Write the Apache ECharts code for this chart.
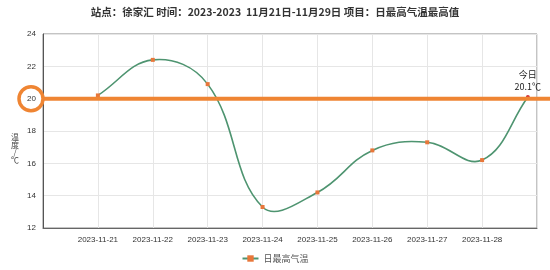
<!DOCTYPE html>
<html>
<head>
<meta charset="utf-8">
<script src="https://cdn.jsdelivr.net/npm/echarts@6/dist/echarts.min.js"></script>
<style>html,body{margin:0;padding:0;background:#fff}#c{width:550px;height:270px}</style>
</head>
<body>
<div id="c"></div>
<script>
const titleText = '站点：徐家汇 时间：2023-2023  11月21日-11月29日 项目：日最高气温最高值';
const seriesName = '日最高气温';
const yAxisTitleChars = ['温', '度', '/', '℃'];
const dates = ['2023-11-21','2023-11-22','2023-11-23','2023-11-24','2023-11-25','2023-11-26','2023-11-27','2023-11-28','2023-11-28 20:00'];
const values = [20.2, 22.4, 20.9, 13.3, 14.2, 16.8, 17.3, 16.2, 20.1];
const todayLabel = '今日';
const refValue = 20;
const xMin = '2023-11-20';
const xMax = '2023-11-29';
const yTicks = [12, 14, 16, 18, 20, 22, 24];

const LINE_COLOR = '#4e9470';
const chart = echarts.init(document.getElementById('c'), null, {renderer:'canvas'});
const DAY = 86400000;
const minT = new Date(xMin).getTime(), maxT = new Date(xMax).getTime();
const pad = n => (n < 10 ? '0' : '') + n;
const pairs = dates.map((d, i) => [d, values[i]]);

const markerData = pairs.map((p, i) => {
  const item = { value: p };
  if (i === pairs.length - 1) {
    item.symbol = 'circle';
    item.symbolSize = 4;
    item.itemStyle = { color: '#d0343a' };
    item.label = {
      show: true, position: 'top', distance: 2,
      formatter: todayLabel + '\n' + values[i].toFixed(1) + '℃',
      fontSize: 9, color: '#222', lineHeight: 12, fontFamily: 'Noto Sans CJK SC'
    };
  }
  return item;
});

// smooth curve (cardinal spline, tension 0.4) through the data, positioned by the axes
function renderCurve(params, api) {
  if (params.dataIndexInside !== 0) return null;
  const n = params.dataInsideLength;
  const pts = [];
  for (let i = 0; i < n; i++) pts.push(api.coord([api.value(0, i), api.value(1, i)]));
  const t = 0.4;
  const cps = pts.map((p, i) => {
    const p0 = pts[i - 1] || p, p2 = pts[i + 1] || p;
    const d01 = Math.hypot(p[0] - p0[0], p[1] - p0[1]);
    const d12 = Math.hypot(p2[0] - p[0], p2[1] - p[1]);
    const s = d01 + d12 || 1;
    const fa = t * d01 / s, fb = t * d12 / s;
    return {
      prev: [p[0] - fa * (p2[0] - p0[0]), p[1] - fa * (p2[1] - p0[1])],
      next: [p[0] + fb * (p2[0] - p0[0]), p[1] + fb * (p2[1] - p0[1])]
    };
  });
  let path = 'M' + pts[0][0] + ' ' + pts[0][1];
  for (let i = 1; i < n; i++) {
    const a = cps[i - 1].next, b = cps[i].prev;
    path += ' C' + a[0] + ' ' + a[1] + ' ' + b[0] + ' ' + b[1] + ' ' + pts[i][0] + ' ' + pts[i][1];
  }
  return { type: 'path', shape: { pathData: path }, style: { stroke: LINE_COLOR, lineWidth: 1.6, fill: null } };
}

chart.setOption({
  animation: false,
  title: {
    text: titleText, left: 'center', top: 2,
    textStyle: { fontSize: 10.5, fontWeight: 'bold', color: '#333', fontFamily: 'Noto Sans CJK SC' }
  },
  legend: {
    bottom: 2, left: 'center', itemWidth: 16, itemHeight: 8, itemGap: 10,
    textStyle: { fontSize: 9, color: '#555', fontFamily: 'Noto Sans CJK SC' },
    lineStyle: { color: LINE_COLOR, width: 2, opacity: 1 },
    data: [seriesName]
  },
  grid: { left: 43, right: 13, top: 34, bottom: 42, show: true, borderColor: '#888', borderWidth: 1, backgroundColor: 'transparent' },
  xAxis: {
    type: 'time', min: xMin, max: xMax, minInterval: DAY, maxInterval: DAY,
    axisLine: { lineStyle: { color: '#666' } },
    axisTick: { show: false },
    splitLine: { show: true, lineStyle: { color: '#e6e6e6' } },
    axisLabel: {
      fontSize: 8, color: '#333', margin: 8, fontFamily: 'Liberation Sans',
      formatter: v => {
        if (v <= minT || v >= maxT) return '';
        const d = new Date(v);
        return d.getFullYear() + '-' + pad(d.getMonth()+1) + '-' + pad(d.getDate());
      }
    }
  },
  yAxis: {
    type: 'value', min: yTicks[0], max: yTicks[yTicks.length-1], interval: 2,
    axisLine: { show: true, lineStyle: { color: '#555' } },
    axisTick: { show: false },
    splitLine: { show: true, lineStyle: { color: '#e6e6e6' } },
    axisLabel: { fontSize: 8, color: '#333', margin: 7, fontFamily: 'Liberation Sans' }
  },
  series: [
    {
      name: 'curve', type: 'custom', renderItem: renderCurve, data: pairs,
      encode: { x: 0, y: 1 }, silent: true, z: 2,
      itemStyle: { color: LINE_COLOR }
    },
    {
      name: seriesName, type: 'line', data: markerData,
      symbol: 'rect', symbolSize: 4, showAllSymbol: true, z: 3,
      lineStyle: { color: LINE_COLOR, width: 0, opacity: 0 },
      itemStyle: { color: '#e8773a' }
    }
  ]
});

function drawAnnot() {
  const y = chart.convertToPixel({ yAxisIndex: 0 }, refValue);
  const x0 = chart.convertToPixel({ xAxisIndex: 0 }, xMin);
  const g = [
    { type: 'line', shape: { x1: x0, y1: y, x2: 550, y2: y }, style: { stroke: '#ef8533', lineWidth: 4 }, z: 100 },
    { type: 'circle', shape: { cx: x0 - 12, cy: y, r: 12 }, style: { stroke: '#ef8533', lineWidth: 3.5, fill: 'transparent' }, z: 100 }
  ];
  yAxisTitleChars.forEach((ch, i) => {
    g.push({ type: 'text', x: 15, y: 137 + i * 7.7, style: { text: ch, fontSize: 8, fill: '#444', fontFamily: 'Noto Sans CJK SC', align: 'center', verticalAlign: 'middle' } });
  });
  chart.setOption({ graphic: g });
}
drawAnnot();
</script>
</body>
</html>
